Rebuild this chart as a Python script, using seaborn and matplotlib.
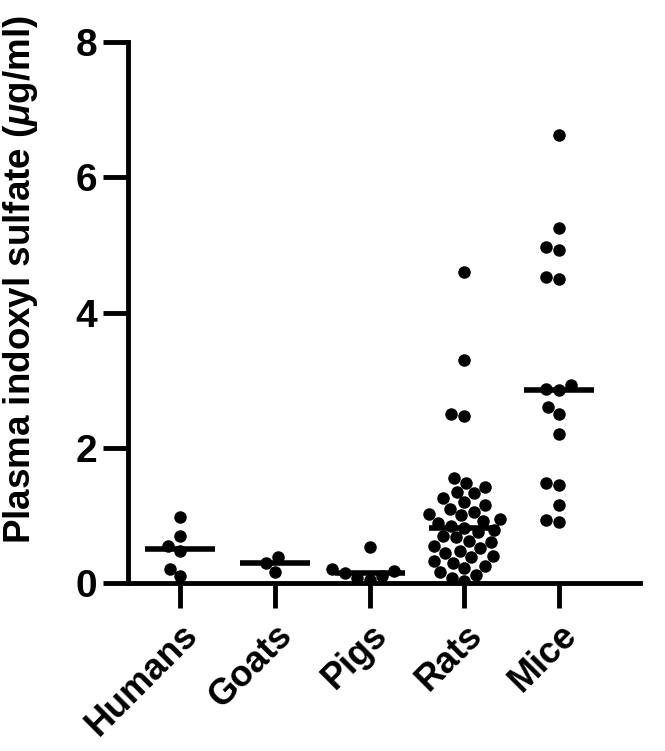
import numpy as np
import pandas as pd
import seaborn as sns
import matplotlib
matplotlib.use("Agg")
import matplotlib.pyplot as plt

# values (ug/ml)
humans = [0.97, 0.70, 0.55, 0.47, 0.21, 0.10]
goats = [0.38, 0.30, 0.16]
pigs = [0.53, 0.20, 0.18, 0.15, 0.10, 0.07, 0.05]
rats = [4.60, 3.30, 2.50, 2.47, 1.55, 1.48, 1.42, 1.35, 1.33, 1.25, 1.20,
        1.15, 1.10, 1.05, 1.02, 1.00, 0.95, 0.92, 0.88, 0.85, 0.82,
        0.78, 0.75, 0.70, 0.68, 0.62, 0.60, 0.55, 0.52, 0.48, 0.45,
        0.40, 0.38, 0.33, 0.30, 0.25, 0.22, 0.17, 0.12, 0.08, 0.03]
mice = [6.62, 5.25, 4.97, 4.93, 4.53, 4.50, 2.93, 2.87, 2.85, 2.60, 2.50,
        2.20, 1.48, 1.45, 1.15, 0.93, 0.90]

species = ["Humans", "Goats", "Pigs", "Rats", "Mice"]
groups = [humans, goats, pigs, rats, mice]

df = pd.DataFrame({
    "species": np.repeat(species, [len(g) for g in groups]),
    "value": np.concatenate(groups),
})

sns.set_style("ticks", {"axes.edgecolor": "black", "text.color": "black",
                        "xtick.color": "black", "ytick.color": "black",
                        "axes.labelcolor": "black"})
plt.rcParams["font.family"] = ["Liberation Sans", "DejaVu Sans"]
plt.rcParams["font.weight"] = "bold"
plt.rcParams["mathtext.fontset"] = "custom"
plt.rcParams["mathtext.it"] = "Liberation Sans:italic:bold"
plt.rcParams["mathtext.rm"] = "Liberation Sans:bold"

fig = plt.figure(figsize=(6.65, 7.51), dpi=100)
ax = fig.add_axes([0.1925, 0.2237, 0.7695, 0.7203])

sns.swarmplot(data=df, x="species", y="value", order=species, color="black",
              size=9, ax=ax)

# median bars
for i, g in enumerate(groups):
    ax.hlines(np.median(g), i - 0.37, i + 0.37, color="black", lw=4, zorder=3)

ax.set_ylim(0, 8)
ax.set_xlim(-0.55, 4.85)
ax.set_yticks([0, 2, 4, 6, 8])
ax.set_xlabel("")
ax.set_ylabel(r"Plasma indoxyl sulfate ($\mu$g/ml)", fontsize=26.5,
              fontweight="bold")
ax.yaxis.set_label_coords(-0.172, 0.56)
ax.tick_params(axis="y", labelsize=28, width=3.5, length=18, pad=4)
ax.tick_params(axis="x", labelsize=26, width=3.5, length=18, pad=7)
for lab in ax.get_yticklabels():
    lab.set_fontweight("bold")
for lab in ax.get_xticklabels():
    lab.set_fontweight("bold")
    lab.set_rotation(45)
    lab.set_ha("right")
    lab.set_rotation_mode("anchor")

sns.despine(ax=ax)
for s in ["left", "bottom"]:
    ax.spines[s].set_linewidth(3.5)

fig.savefig("out.png", dpi=100)
